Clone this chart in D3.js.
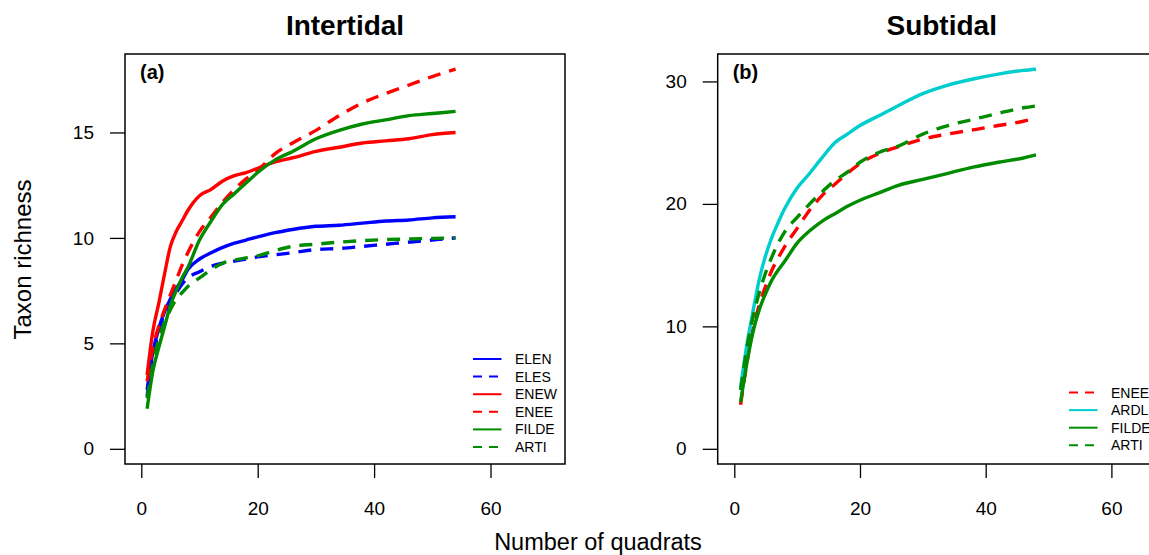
<!DOCTYPE html>
<html><head><meta charset="utf-8">
<script src="https://cdn.jsdelivr.net/npm/d3@7"></script>
<style>
html,body{margin:0;padding:0;background:#fff;overflow:hidden;}
svg{display:block;font-family:"Liberation Sans",Arial,Helvetica,sans-serif;}
</style></head>
<body>
<svg id="chart" width="1149" height="555"></svg>
<script>
// ---------- DATA ----------
const quadratsA = [1,2,3,4,5,6,7,8,10,12,14,16,18,20,23,26,30,34,38,42,46,50,54];
const ELEN  = [2.8,4.6,5.7,6.5,7.1,7.6,8.0,8.5,9.0,9.3,9.55,9.75,9.9,10.05,10.25,10.4,10.55,10.6,10.7,10.8,10.85,10.95,11.0];
const ELES  = [2.5,4.3,5.6,6.4,7.0,7.4,7.8,8.1,8.4,8.65,8.8,8.9,9.0,9.1,9.2,9.3,9.45,9.5,9.6,9.7,9.8,9.9,10.0];
const ENEW  = [3.5,5.6,6.9,8.3,9.6,10.3,10.8,11.3,12.0,12.3,12.7,12.95,13.1,13.3,13.6,13.8,14.1,14.3,14.5,14.6,14.7,14.9,15.0];
const ENEE_A = [3.2,4.8,5.8,6.6,7.3,8.0,8.7,9.3,10.3,11.0,11.7,12.3,12.8,13.2,14.0,14.5,15.1,15.8,16.4,16.85,17.25,17.65,18.0];
const FILDE_A = [1.9,3.7,4.8,5.8,6.8,7.5,8.1,8.6,9.9,10.8,11.6,12.1,12.6,13.1,13.7,14.1,14.7,15.1,15.4,15.6,15.8,15.9,16.0];
const ARTI_A = [2.4,4.0,5.2,6.0,6.6,7.1,7.4,7.7,8.1,8.5,8.8,8.95,9.05,9.15,9.4,9.6,9.7,9.8,9.87,9.92,9.95,9.98,10.0];

const quadratsB = [1,2,3,4,5,6,7,8,10,12,14,16,18,20,23,26,30,34,38,42,46,48];
const ENEE_B  = [3.6,7.0,9.8,11.8,13.3,14.6,15.6,16.5,18.0,19.5,20.7,21.6,22.5,23.3,24.1,24.65,25.3,25.7,26.05,26.4,26.75,27.0];
const ARDL    = [5.0,8.5,11.3,13.9,15.8,17.3,18.5,19.6,21.3,22.5,23.8,25.0,25.7,26.4,27.2,28.0,29.0,29.7,30.2,30.6,30.9,31.0];
const FILDE_B = [3.8,7.0,9.6,11.4,12.7,13.8,14.6,15.3,16.8,17.8,18.6,19.2,19.8,20.3,20.9,21.5,22.0,22.5,23.0,23.4,23.75,24.0];
const ARTI_B  = [4.8,8.2,10.8,12.8,14.4,15.7,16.8,17.7,18.9,20.0,21.0,21.9,22.6,23.4,24.2,24.7,25.7,26.4,26.9,27.4,27.85,28.0];

const xTicks = [0,20,40,60];
const yTicksA = [0,5,10,15];
const yTicksB = [0,10,20,30];

const seriesA = [
  {name:"ELEN", values:ELEN, color:"#0000FF", dash:false},
  {name:"ELES", values:ELES, color:"#0000FF", dash:true},
  {name:"ENEW", values:ENEW, color:"#FF0000", dash:false},
  {name:"ENEE", values:ENEE_A, color:"#FF0000", dash:true},
  {name:"FILDE", values:FILDE_A, color:"#008B00", dash:false},
  {name:"ARTI", values:ARTI_A, color:"#008B00", dash:true}
];
const seriesB = [
  {name:"ENEE", values:ENEE_B, color:"#FF0000", dash:true},
  {name:"ARDL", values:ARDL, color:"#00CDCD", dash:false},
  {name:"FILDE", values:FILDE_B, color:"#008B00", dash:false},
  {name:"ARTI", values:ARTI_B, color:"#008B00", dash:true}
];

// ---------- DRAW ----------
const svg = d3.select("#chart");
const plotTop = 54, plotBottom = 464;

function panel(cfg){
  const g = svg.append("g");
  const x = d3.scaleLinear().domain(cfg.xDomain).range([cfg.left, cfg.right]);
  const y = d3.scaleLinear().domain(cfg.yDomain).range([plotBottom, plotTop]);

  const xa = g.append("g").attr("transform",`translate(0,${plotBottom})`)
    .call(d3.axisBottom(x).tickValues(xTicks).tickSize(14).tickPadding(24).tickFormat(d3.format("d")));
  xa.select(".domain").remove();
  xa.selectAll("line").attr("stroke","#000").attr("stroke-width",1.3);
  xa.selectAll("text").attr("font-size",19).attr("fill","#000");

  const ya = g.append("g").attr("transform",`translate(${cfg.left},0)`)
    .call(d3.axisLeft(y).tickValues(cfg.yTicks).tickSize(15).tickPadding(16).tickFormat(d3.format("d")));
  ya.select(".domain").remove();
  ya.selectAll("line").attr("stroke","#000").attr("stroke-width",1.3);
  ya.selectAll("text").attr("font-size",19).attr("fill","#000");

  const clipId = "clip"+cfg.id;
  svg.append("clipPath").attr("id",clipId).append("rect")
    .attr("x",cfg.left).attr("y",plotTop).attr("width",cfg.right-cfg.left).attr("height",plotBottom-plotTop);

  const line = d3.line().x((d)=>x(d[0])).y((d)=>y(d[1])).curve(d3.curveMonotoneX);
  const lg = g.append("g").attr("clip-path",`url(#${clipId})`);
  cfg.series.forEach(s=>{
    lg.append("path")
      .datum(cfg.q.map((q,i)=>[q,s.values[i]]))
      .attr("d",line)
      .attr("fill","none")
      .attr("stroke",s.color)
      .attr("stroke-width",3.4)
      .attr("stroke-linejoin","round")
      .attr("stroke-dasharray",s.dash?"13,9":null);
  });

  g.append("rect").attr("x",cfg.left).attr("y",plotTop)
    .attr("width",cfg.right-cfg.left).attr("height",plotBottom-plotTop)
    .attr("fill","none").attr("stroke","#000").attr("stroke-width",1.5);

  g.append("text").attr("x",cfg.left+15).attr("y",79)
    .attr("font-size",20).attr("font-weight","bold").text(cfg.label);

  g.append("text").attr("x",(cfg.left+cfg.right)/2).attr("y",35)
    .attr("text-anchor","middle").attr("font-size",28).attr("font-weight","bold").text(cfg.title);

  const leg = g.append("g");
  cfg.series.forEach((s,i)=>{
    const yy = cfg.legY + i*17.6;
    leg.append("line").attr("x1",cfg.legX).attr("x2",cfg.legX+28.5)
      .attr("y1",yy).attr("y2",yy).attr("stroke",s.color).attr("stroke-width",2)
      .attr("stroke-dasharray",s.dash?"9,7":null);
    leg.append("text").attr("x",cfg.legX+42).attr("y",yy).attr("dy","0.36em")
      .attr("font-size",14).text(s.name);
  });
}

panel({id:"A", left:125, right:565, xDomain:[-2.8,72.8], yDomain:[-0.72,18.72],
  yTicks:yTicksA, q:quadratsA, series:seriesA, label:"(a)", title:"Intertidal", legX:473, legY:359});
panel({id:"B", left:717.7, right:1165.7, xDomain:[-2.64,68.64], yDomain:[-1.24,32.24],
  yTicks:yTicksB, q:quadratsB, series:seriesB, label:"(b)", title:"Subtidal", legX:1069, legY:392.5});

svg.append("text").attr("x",598).attr("y",550).attr("text-anchor","middle")
  .attr("font-size",23.5).text("Number of quadrats");
svg.append("text").attr("transform","translate(31,259.5) rotate(-90)").attr("text-anchor","middle")
  .attr("font-size",24).text("Taxon richness");
</script>
</body></html>
